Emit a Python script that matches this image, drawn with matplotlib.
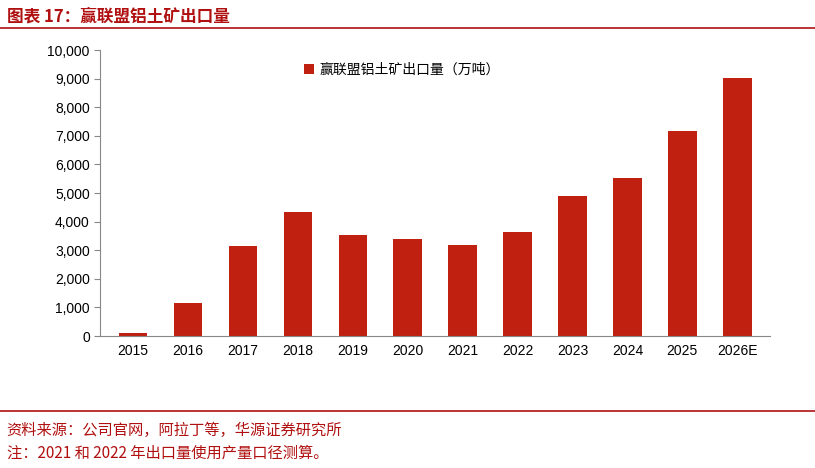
import matplotlib.pyplot as plt
from matplotlib.lines import Line2D

plt.rcParams['font.family'] = ['Noto Sans CJK SC', 'DejaVu Sans']

years = ['2015', '2016', '2017', '2018', '2019', '2020', '2021', '2022',
         '2023', '2024', '2025', '2026E']
exports = [100, 1170, 3150, 4320, 3550, 3380, 3180, 3640, 4900, 5520, 7170, 9020]

RED = '#c0200f'
fig = plt.figure(figsize=(8.15, 4.68), dpi=100)
ax = fig.add_axes([0.123, 0.282, 0.822, 0.611])

ax.bar(range(len(years)), exports, width=0.52, color=RED, label='赢联盟铝土矿出口量（万吨）')
ax.set_xticks(range(len(years)))
ax.set_xticklabels(years, fontsize=10, family='Liberation Sans')
ax.set_xlim(-0.6, len(years) - 0.4)
ax.set_ylim(0, 10000)
ax.set_yticks(range(0, 10001, 1000))
ax.set_yticklabels([f'{v:,}' for v in range(0, 10001, 1000)], fontsize=10,
                   family='Liberation Sans')
for s in ['top', 'right']:
    ax.spines[s].set_visible(False)
for s in ['left', 'bottom']:
    ax.spines[s].set_color('#888888')
ax.tick_params(axis='both', color='#888888', length=4)
ax.tick_params(axis='x', length=0, pad=6)
ax.legend(loc='upper center', bbox_to_anchor=(0.45, 1.0), frameon=False,
          fontsize=10, handlelength=0.7, handleheight=0.7, handletextpad=0.4)

fig.text(0.008, 0.965, '图表 17：赢联盟铝土矿出口量', color='#b01010',
         fontsize=12, fontweight='bold', va='center')
fig.add_artist(Line2D([0.0, 1.0], [0.94, 0.94], color='#b01010', lw=1.2))
fig.add_artist(Line2D([0.0, 1.0], [0.122, 0.122], color='#b01010', lw=1.2))
fig.text(0.008, 0.08, '资料来源：公司官网，阿拉丁等，华源证券研究所', color='#b01010',
         fontsize=11, va='center')
fig.text(0.008, 0.032, '注：2021 和 2022 年出口量使用产量口径测算。', color='#b01010',
         fontsize=11, va='center')

fig.savefig('out.png', dpi=100)
